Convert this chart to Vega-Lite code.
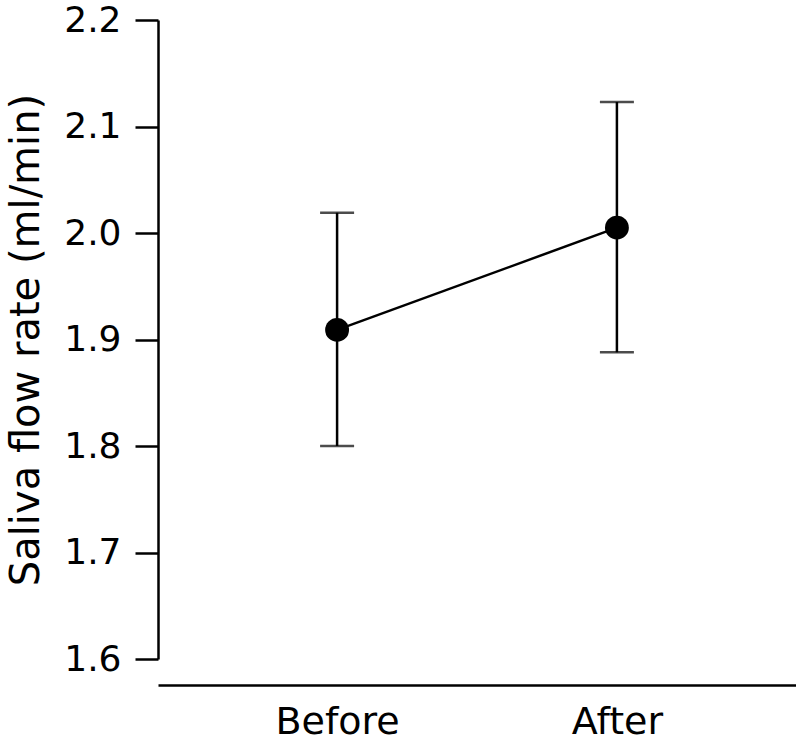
{
  "$schema": "https://vega.github.io/schema/vega-lite/v6.json",
  "autosize": {"type": "none"},
  "width": 638,
  "height": 639,
  "padding": {"left": 158, "top": 20, "right": 0, "bottom": 83},
  "background": "white",
  "config": {
    "view": {"stroke": null},
    "font": "DejaVu Sans",
    "axis": {
      "grid": false,
      "domainColor": "black",
      "domainWidth": 2.5,
      "tickColor": "black",
      "tickWidth": 2.5,
      "labelColor": "black",
      "titleColor": "black",
      "labelFont": "DejaVu Sans",
      "titleFont": "DejaVu Sans",
      "labelFontSize": 36,
      "titleFontSize": 40,
      "titleFontWeight": "normal"
    }
  },
  "data": {
    "values": [
      {"time": "Before", "mean": 1.909, "lo": 1.800, "hi": 2.019},
      {"time": "After", "mean": 2.005, "lo": 1.888, "hi": 2.123}
    ]
  },
  "encoding": {
    "x": {
      "field": "time",
      "type": "nominal",
      "sort": ["Before", "After"],
      "scale": {"type": "point", "padding": 0.64},
      "axis": {"title": null, "labelAngle": 0, "ticks": false, "offset": 26, "labelPadding": 18, "labelFontSize": 38}
    }
  },
  "layer": [
    {
      "mark": {"type": "rule", "color": "black", "strokeWidth": 2.5},
      "encoding": {
        "y": {
          "field": "lo",
          "type": "quantitative",
          "scale": {"domain": [1.6, 2.2], "nice": false, "zero": false},
          "axis": {
            "title": "Saliva flow rate (ml/min)",
            "values": [1.6, 1.7, 1.8, 1.9, 2.0, 2.1, 2.2],
            "format": ".1f",
            "tickSize": 23,
            "labelPadding": 14,
            "titlePadding": 17
          }
        },
        "y2": {"field": "hi"}
      }
    },
    {
      "mark": {"type": "tick", "color": "black", "thickness": 2.5, "size": 34, "orient": "horizontal"},
      "encoding": {"y": {"field": "lo", "type": "quantitative"}}
    },
    {
      "mark": {"type": "tick", "color": "black", "thickness": 2.5, "size": 34, "orient": "horizontal"},
      "encoding": {"y": {"field": "hi", "type": "quantitative"}}
    },
    {
      "mark": {"type": "line", "color": "black", "strokeWidth": 2.5},
      "encoding": {"y": {"field": "mean", "type": "quantitative"}}
    },
    {
      "mark": {"type": "point", "filled": true, "shape": "circle", "color": "black", "opacity": 1, "size": 570},
      "encoding": {"y": {"field": "mean", "type": "quantitative"}}
    }
  ]
}
